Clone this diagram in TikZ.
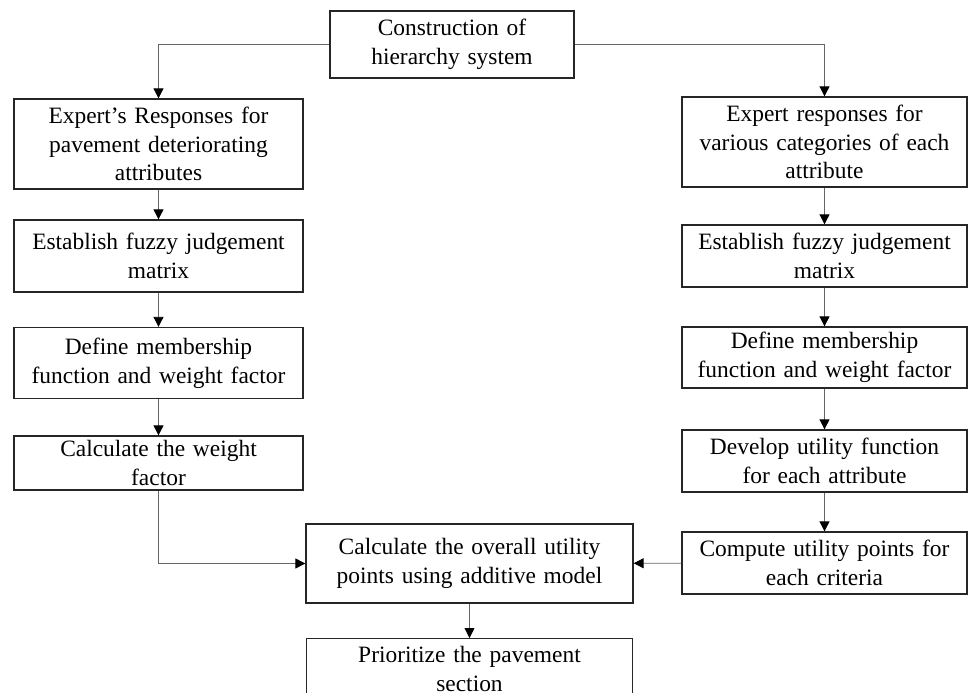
\documentclass[tikz,border=0pt]{standalone}
\usepackage{fontspec}
\setmainfont{Liberation Serif}
\usetikzlibrary{arrows.meta}

\begin{document}
\begin{tikzpicture}[
	box/.style={draw=black!85, line width=1.1pt, inner sep=0pt, align=center,
		font=\fontsize{20}{24.5}\selectfont},
	flow/.style={draw=black!60, line width=0.7pt, -{Triangle[length=0.3cm,width=0.3cm,black]}}
	]
	\useasboundingbox (0,0) rectangle (29.1,20.79);

	% top
	\node [box, text width=7.32cm, minimum height=2.01cm] (hier) at (13.56,19.455) {Construction of\\hierarchy system};

	% left column
	\node [box, text width=8.67cm, minimum height=2.7cm] (resp1) at (4.755,16.47) {Expert's Responses for\\pavement deteriorating\\attributes};
	\node [box, text width=8.67cm, minimum height=2.16cm] (fuzzy1) at (4.755,13.11) {Establish fuzzy judgement\\matrix};
	\node [box, text width=8.67cm, minimum height=2.13cm] (memb1) at (4.755,9.9) {Define membership\\function and weight factor};
	\node [box, text width=8.67cm, minimum height=1.62cm] (weight) at (4.755,6.9) {Calculate the weight\\factor};

	% right column
	\node [box, text width=8.55cm, minimum height=2.7cm] (resp2) at (24.735,16.53) {Expert responses for\\various categories of each\\attribute};
	\node [box, text width=8.55cm, minimum height=1.86cm] (fuzzy2) at (24.735,13.11) {Establish fuzzy judgement\\matrix};
	\node [box, text width=8.55cm, minimum height=1.83cm] (memb2) at (24.735,10.065) {Define membership\\function and weight factor};
	\node [box, text width=8.55cm, minimum height=1.86cm] (util) at (24.735,6.96) {Develop utility function\\for each attribute};
	\node [box, text width=8.55cm, minimum height=1.86cm] (points) at (24.735,3.9) {Compute utility points for\\each criteria};

	% bottom
	\node [box, text width=9.81cm, minimum height=2.37cm] (overall) at (14.085,3.885) {Calculate the overall utility\\points using additive model};
	\node [box, text width=9.78cm, minimum height=1.8cm] (prior) at (14.085,0.73) {Prioritize the pavement\\section};

	% arrows
	\draw [flow] (hier.west) -| (resp1.north);
	\draw [flow] (hier.east) -| (resp2.north);
	% |
	\draw [flow] (resp1) -- (fuzzy1);
	\draw [flow] (fuzzy1) -- (memb1);
	\draw [flow] (memb1) -- (weight);
	\draw [flow] (resp2) -- (fuzzy2);
	\draw [flow] (fuzzy2) -- (memb2);
	\draw [flow] (memb2) -- (util);
	\draw [flow] (util) -- (points);
	% to the total
	\draw [flow] (weight.south) |- (overall.west);
	\draw [flow] (points) -- (overall);
	\draw [flow] (overall) -- (prior);
\end{tikzpicture}
\end{document}
